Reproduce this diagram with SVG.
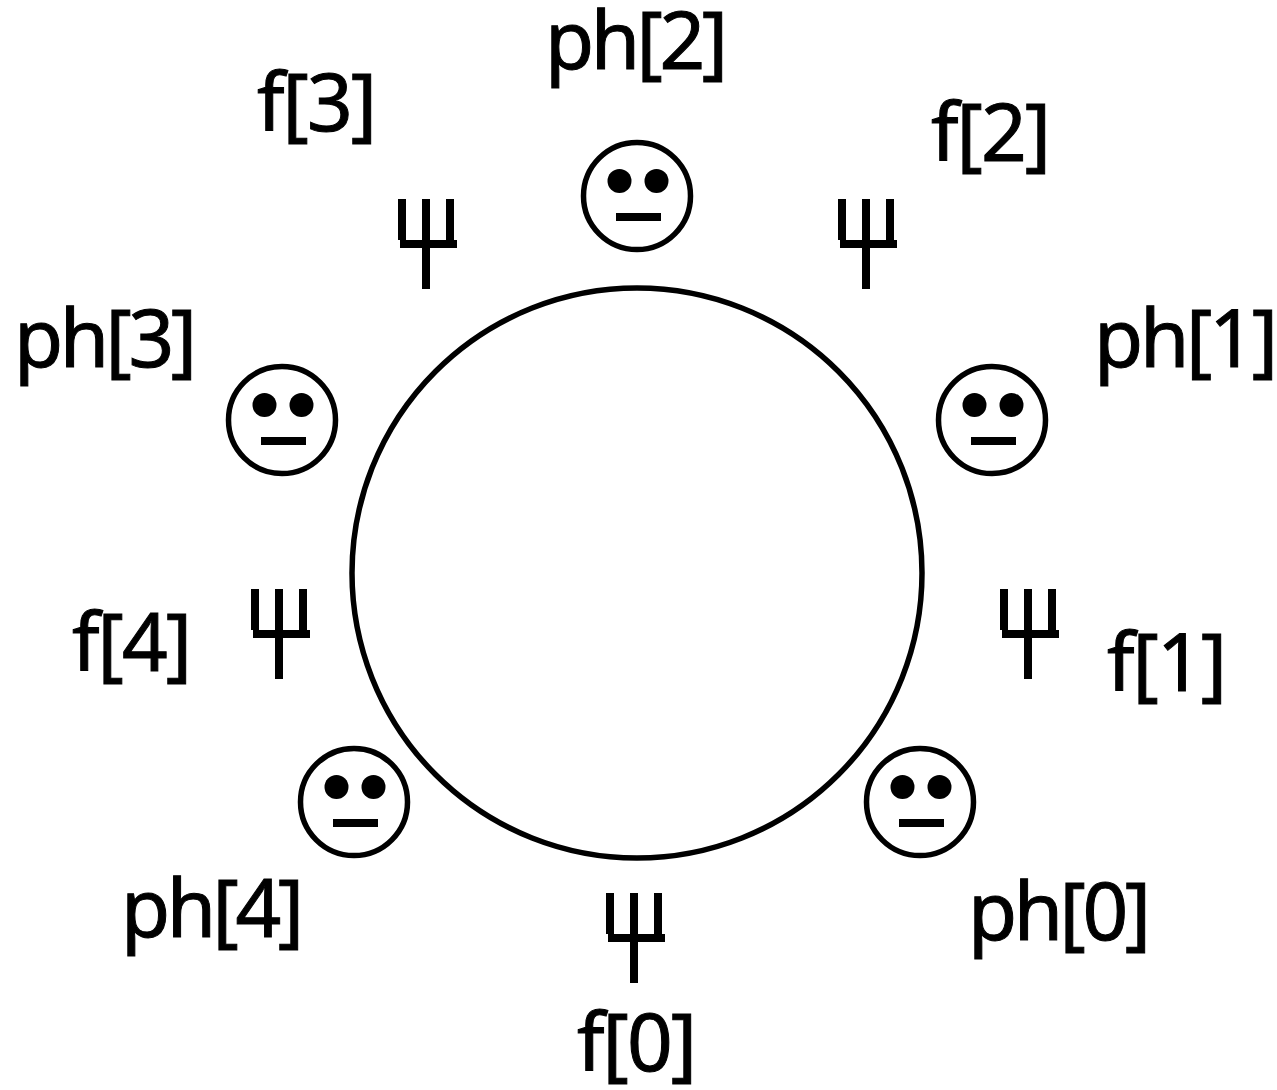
<svg xmlns="http://www.w3.org/2000/svg" width="1277" height="1090" viewBox="0 0 1277 1090">
<style>
.t{font-family:"Noto Sans","Open Sans",sans-serif;font-size:80px;fill:#000;stroke:#000;stroke-width:1}
.big{fill:#fff;stroke:#000;stroke-width:5.5}
.head{fill:#fff;stroke:#000;stroke-width:5.5}
.k{fill:#000}
</style>
<defs>
<g id="face">
<circle class="head" cx="0" cy="0" r="53.5"/>
<circle class="k" cx="-17.5" cy="-15" r="12"/>
<circle class="k" cx="19.5" cy="-15" r="12"/>
<rect class="k" x="-21" y="17" width="45" height="8"/>
</g>
<g id="fork">
<rect class="k" x="0" y="0" width="8" height="41"/>
<rect class="k" x="24" y="0" width="8" height="41"/>
<rect class="k" x="48" y="0" width="8" height="41"/>
<rect class="k" x="2" y="41" width="57" height="8"/>
<rect class="k" x="24" y="41" width="8" height="49"/>
</g>
</defs>
<rect width="1277" height="1090" fill="#fff"/>
<g id="table"><circle class="big" cx="637" cy="573" r="285"/></g>
<g id="ph0"><use href="#face" x="920" y="802"/><text class="t" x="968" y="940" textLength="183">ph[0]</text></g>
<g id="ph1"><use href="#face" x="992" y="420"/><text class="t" x="1094" y="367" textLength="184">ph[1]</text></g>
<g id="ph2"><use href="#face" x="637" y="196"/><text class="t" x="545" y="69" textLength="183">ph[2]</text></g>
<g id="ph3"><use href="#face" x="282" y="420"/><text class="t" x="14" y="367" textLength="183">ph[3]</text></g>
<g id="ph4"><use href="#face" x="354" y="802"/><text class="t" x="121" y="937" textLength="183">ph[4]</text></g>
<g id="f0"><use href="#fork" x="606" y="893"/><text class="t" x="577" y="1071" textLength="120">f[0]</text></g>
<g id="f1"><use href="#fork" x="1000" y="589"/><text class="t" x="1107" y="691" textLength="120">f[1]</text></g>
<g id="f2"><use href="#fork" x="838" y="199"/><text class="t" x="931" y="161" textLength="120">f[2]</text></g>
<g id="f3"><use href="#fork" x="398" y="199"/><text class="t" x="257" y="131" textLength="120">f[3]</text></g>
<g id="f4"><use href="#fork" x="251" y="589"/><text class="t" x="72" y="671" textLength="120">f[4]</text></g>
<g id="connectors"></g>
</svg>
